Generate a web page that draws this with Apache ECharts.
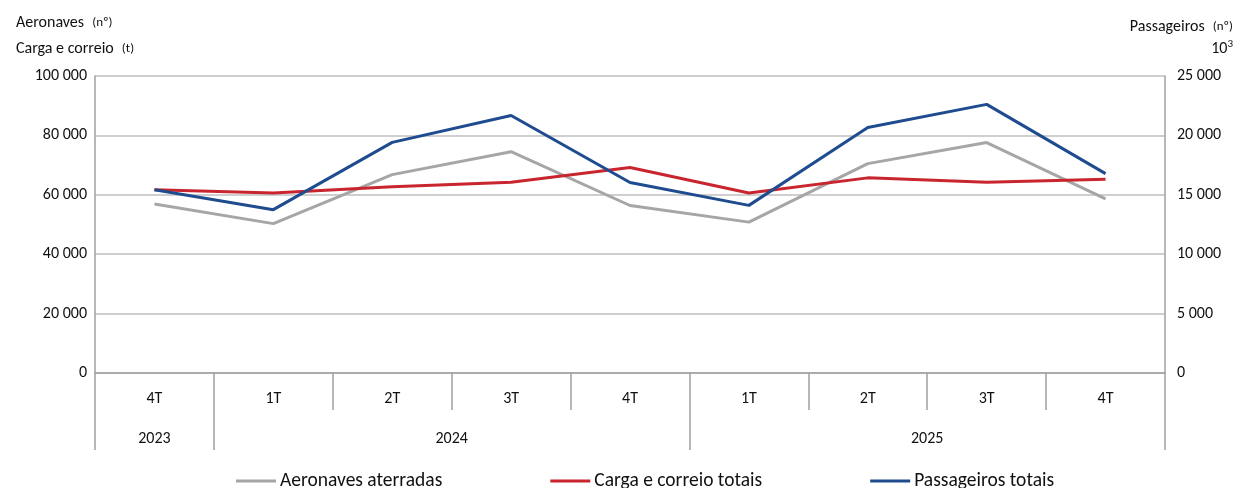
<!DOCTYPE html>
<html>
<head>
<meta charset="utf-8">
<script src="https://cdn.jsdelivr.net/npm/echarts@6/dist/echarts.min.js"></script>
<style>
  html, body { margin: 0; padding: 0; background: #fff; }
  #chart { width: 1242px; height: 488px; }
</style>
</head>
<body>
<div id="chart"></div>
<script>
// Quarterly airport traffic, 4T 2023 – 4T 2025
const quarters = ['4T', '1T', '2T', '3T', '4T', '1T', '2T', '3T', '4T'];
const years = ['2023', '2024', '2025'];
const yearSpans = [1, 4, 4];           // quarters covered by each year
const aeronaves = [56900, 50300, 66800, 74500, 56400, 50800, 70500, 77600, 58600];
const carga = [61700, 60600, 62700, 64200, 69200, 60600, 65700, 64200, 65200];
const passageiros = [15430, 13750, 19410, 21680, 16040, 14110, 20670, 22610, 16780];
const leftTicks = [0, 20000, 40000, 60000, 80000, 100000];
const rightTicks = [0, 5000, 10000, 15000, 20000, 25000];

const FONT = 'Carlito, Lato, "Liberation Sans", sans-serif';
const GRID_COLOR = '#bfbfbf';
const AXIS_COLOR = '#a0a0a0';
const TEXT_COLOR = '#111';

// Year boundaries and year label centres on a 0..n scale
const yearEdges = [0];
yearSpans.forEach(s => yearEdges.push(yearEdges[yearEdges.length - 1] + s));
const yearCentres = years.map((_, i) => (yearEdges[i] + yearEdges[i + 1]) / 2);

const fmt = v => String(v).replace(/\B(?=(\d{3})+(?!\d))/g, ' ');

const rich = {
  a: { fontSize: 16, color: TEXT_COLOR, fontFamily: FONT, fontWeight: 'normal' },
  s: { fontSize: 13, color: TEXT_COLOR, fontFamily: FONT, fontWeight: 'normal' },
  sup: { fontSize: 11, color: TEXT_COLOR, fontFamily: FONT, fontWeight: 'normal', verticalAlign: 'top', padding: [0, 0, 9, 0] }
};

const chart = echarts.init(document.getElementById('chart'));
chart.setOption({
  animation: false,
  textStyle: { fontFamily: FONT },
  title: [
    { left: 11, top: 9, text: '{a|Aeronaves}  {s|(nº)}', textStyle: { fontWeight: 'normal', rich } },
    { left: 11, top: 35, text: '{a|Carga e correio}  {s|(t)}', textStyle: { fontWeight: 'normal', rich } },
    { right: 4, top: 13, text: '{a|Passageiros}  {s|(nº)}', textStyle: { fontWeight: 'normal', rich } },
    { right: 4, top: 34, text: '{a|10}{sup|3}', textStyle: { fontWeight: 'normal', rich } }
  ],
  legend: {
    top: 466,
    left: 231,
    icon: 'rect',
    itemWidth: 40,
    itemHeight: 3,
    itemGap: 108,
    textStyle: { fontSize: 19.5, color: TEXT_COLOR, fontFamily: FONT, padding: [0, 0, 0, -1] },
    data: ['Aeronaves aterradas', 'Carga e correio totais', 'Passageiros totais']
  },
  grid: { left: 95, right: 77, top: 76, bottom: 115, containLabel: false },
  xAxis: [
    {
      type: 'category',
      data: quarters,
      boundaryGap: true,
      axisLine: { show: true, lineStyle: { color: AXIS_COLOR, width: 1.5 } },
      axisTick: { show: true, interval: 0, length: 37, lineStyle: { color: AXIS_COLOR, width: 1.5 } },
      axisLabel: { interval: 0, margin: 18, fontSize: 16, color: TEXT_COLOR, fontFamily: FONT },
      splitLine: { show: false }
    },
    {
      type: 'value',
      position: 'bottom',
      min: 0,
      max: quarters.length,
      axisLine: { show: false },
      axisTick: {
        show: true, length: 77, customValues: yearEdges,
        lineStyle: { color: AXIS_COLOR, width: 1.5 }
      },
      axisLabel: {
        show: true, margin: 58, fontSize: 16, color: TEXT_COLOR, fontFamily: FONT,
        customValues: yearCentres,
        formatter: v => years[yearCentres.indexOf(v)]
      },
      splitLine: { show: false }
    }
  ],
  yAxis: [
    {
      type: 'value',
      min: leftTicks[0],
      max: leftTicks[leftTicks.length - 1],
      interval: leftTicks[1] - leftTicks[0],
      axisLine: { show: true, lineStyle: { color: AXIS_COLOR, width: 1.5 } },
      axisTick: { show: false },
      axisLabel: { margin: 8, fontSize: 16, color: TEXT_COLOR, fontFamily: FONT, formatter: fmt },
      splitLine: { show: true, lineStyle: { color: GRID_COLOR, width: 1.5 } }
    },
    {
      type: 'value',
      position: 'right',
      min: rightTicks[0],
      max: rightTicks[rightTicks.length - 1],
      interval: rightTicks[1] - rightTicks[0],
      axisLine: { show: true, lineStyle: { color: AXIS_COLOR, width: 1.5 } },
      axisTick: { show: false },
      axisLabel: { margin: 12, fontSize: 16, color: TEXT_COLOR, fontFamily: FONT, formatter: fmt },
      splitLine: { show: false }
    }
  ],
  series: [
    {
      name: 'Aeronaves aterradas', type: 'line', xAxisIndex: 0, yAxisIndex: 0,
      data: aeronaves, symbol: 'none',
      lineStyle: { color: '#a6a6a6', width: 3 }, itemStyle: { color: '#a6a6a6' }
    },
    {
      name: 'Carga e correio totais', type: 'line', xAxisIndex: 0, yAxisIndex: 0,
      data: carga, symbol: 'none',
      lineStyle: { color: '#c8252f', width: 3 }, itemStyle: { color: '#c8252f' }
    },
    {
      name: 'Passageiros totais', type: 'line', xAxisIndex: 0, yAxisIndex: 1,
      data: passageiros, symbol: 'none',
      lineStyle: { color: '#1f4b8f', width: 3 }, itemStyle: { color: '#1f4b8f' }
    }
  ]
});
</script>
</body>
</html>
